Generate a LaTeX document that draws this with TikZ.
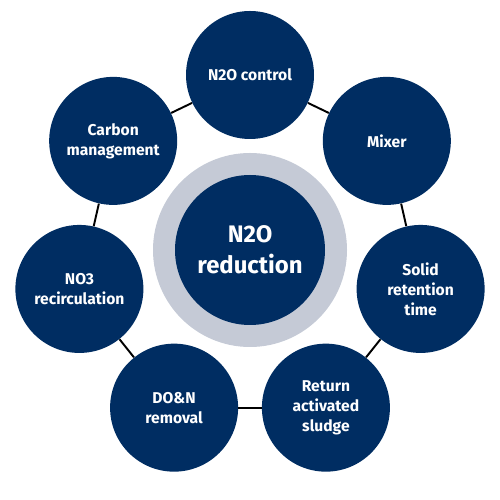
\documentclass[tikz,border=0pt]{standalone}
\usepackage{fontspec}
\setmainfont{Fira Sans}
\usepackage{xcolor}
\usepackage{tikz}
\definecolor{navy}{RGB}{0,45,98}
\definecolor{ringgray}{RGB}{197,202,214}

\begin{document}
\begin{tikzpicture}[ spoke/.style={circle, fill=navy, text=white, minimum size=2.56cm,
        inner sep=0pt, align=center, font=\bfseries\fontsize{8.9}{11.3}\selectfont},
        link/.style={black, line width=1.1pt}]
            \useasboundingbox (-5,-5) rectangle (5,5);
            % centre
            \node[circle, fill=ringgray, minimum size=3.88cm] (ring) at (0,0) {};
            \node[circle, fill=navy, text=white, minimum size=3cm, align=center,
                font=\bfseries\fontsize{13.6}{17.6}\selectfont] (hub) at (0,0) {N2O\\reduction};
            % outer ring
            \foreach \name/\ang/\txt in {ctrl/90/N2O control, mixer/38.57/Mixer,
                srt/-12.86/Solid\\retention\\time, ras/-64.29/Return\\activated\\sludge,
                don/-115.71/DO\&N\\removal, nore/-167.14/NO3\\recirculation,
                carbon/141.43/Carbon\\management}
                \node[spoke] (\name) at (\ang:3.5) {\txt};
            \foreach \a/\b in {ctrl/mixer, mixer/srt, srt/ras, ras/don, don/nore,
                nore/carbon, carbon/ctrl}
                \draw[link] (\a) -- (\b);
\end{tikzpicture}
\end{document}
